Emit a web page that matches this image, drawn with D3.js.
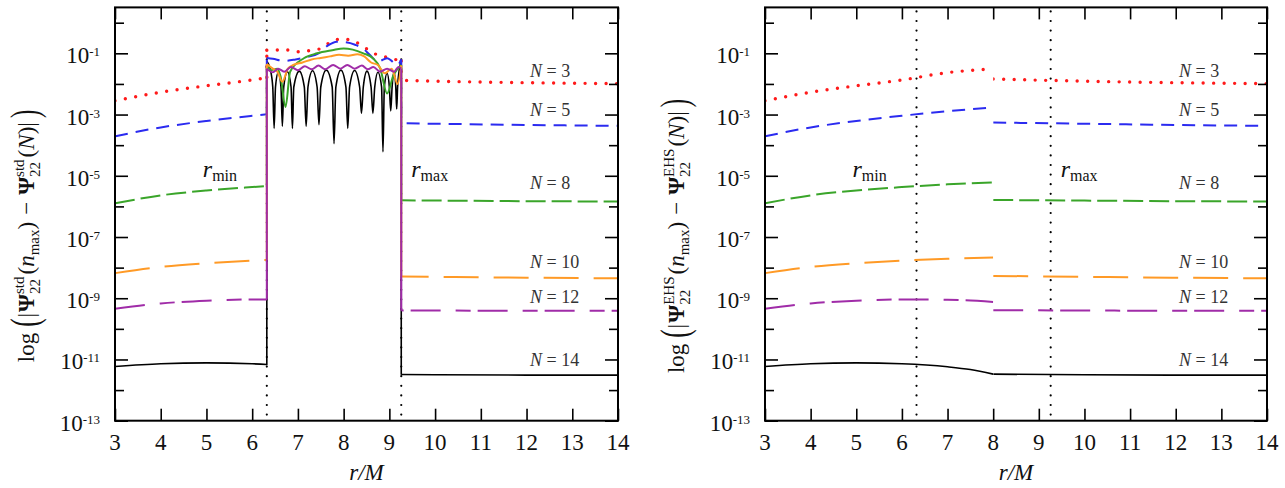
<!DOCTYPE html>
<html>
<head>
<meta charset="utf-8">
<script src="https://cdn.jsdelivr.net/npm/d3@7"></script>
<style>
  html, body { margin: 0; padding: 0; background: #fff; }
  svg { display: block; font-family: "Liberation Serif", "DejaVu Serif", serif; }
  text { white-space: pre; font-family: "Liberation Serif", "DejaVu Serif", serif; }
</style>
</head>
<body>
<svg id="chart" width="1285" height="488"></svg>
<script>
// ---- data: values are log10 of the difference, r in units of M ----
const R_MIN = 6.32, R_MAX = 9.26;
const xTicks = [3, 4, 5, 6, 7, 8, 9, 10, 11, 12, 13, 14];
const yDecades = d3.range(-13, 1);          // a tick at every decade
const yLabelled = [-13, -11, -9, -7, -5, -3, -1];
const nValues = [3, 5, 8, 10, 12, 14];

// EHS curves, r < 8
const innerN3  = [[3, -2.55], [4, -2.27], [5, -2.06], [6, -1.87], [7, -1.63], [8, -1.51]];
const innerN5  = [[3, -3.71], [4, -3.42], [5, -3.21], [6, -3.04], [7, -2.89], [8, -2.77]];
const innerN8  = [[3, -5.90], [4, -5.64], [5, -5.48], [6, -5.37], [7, -5.28], [8, -5.22]];
const innerN10 = [[3, -8.18], [4, -7.98], [5, -7.86], [6, -7.77], [7, -7.71], [8, -7.67]];
const innerN12 = [[3, -9.34], [4, -9.17], [5, -9.08], [6, -9.04], [7, -9.05], [8, -9.12]];
const innerN14 = [[3, -11.23], [4, -11.14], [5, -11.11], [6, -11.14], [7, -11.24], [7.5, -11.33], [8, -11.48]];

// EHS curves, r > 8
const outerN3  = [[8, -1.84], [10, -1.91], [12, -1.96], [14, -1.99]];
const outerN5  = [[8, -3.26], [10, -3.30], [12, -3.34], [14, -3.37]];
const outerN8  = [[8, -5.79], [10, -5.81], [12, -5.83], [14, -5.84]];
const outerN10 = [[8, -8.27], [10, -8.30], [12, -8.33], [14, -8.35]];
const outerN12 = [[8, -9.39], [10, -9.40], [12, -9.41], [14, -9.41]];
const outerN14 = [[8, -11.48], [10, -11.50], [12, -11.51], [14, -11.51]];

// std curves between r_min and r_max (first/last points are the jumps)
const midN3 = [[R_MIN, -1.78], [R_MIN, -0.90], [6.74, -0.89], [7.03, -0.95], [7.30, -0.90], [7.51, -0.84],
  [7.72, -0.62], [7.96, -0.53], [8.25, -0.62], [8.47, -0.82], [8.69, -1.02], [9.00, -1.15], [R_MAX, -1.25], [R_MAX, -1.88]];
const midN5 = [[R_MIN, -3.00], [R_MIN, -1.15], [6.45, -1.18], [6.70, -1.25], [6.95, -1.20], [7.20, -1.12], [7.45, -1.00],
  [7.65, -0.75], [7.85, -0.62], [8.05, -0.64], [8.25, -0.72], [8.43, -0.85], [8.57, -1.05], [8.75, -1.27],
  [8.95, -1.16], [9.18, -1.38], [R_MAX, -1.20], [R_MAX, -3.29]];
const midN8 = [[R_MIN, -5.36], [R_MIN, -1.40], [6.42, -1.55], [6.55, -1.50], [6.62, -1.75], [6.73, -2.75], [6.83, -1.60],
  [7.13, -1.16], [7.42, -1.00], [7.75, -0.90], [8.00, -0.84], [8.20, -0.88], [8.43, -1.00], [8.64, -1.16],
  [8.80, -1.49], [8.95, -2.31], [9.09, -1.71], [R_MAX, -1.38], [R_MAX, -5.80]];
const midN10 = [[R_MIN, -7.75], [R_MIN, -1.35], [6.45, -1.50], [6.55, -1.60], [6.66, -1.93], [6.78, -1.50], [6.90, -1.38],
  [7.10, -1.30], [7.30, -1.20], [7.50, -1.15], [7.70, -1.10], [7.90, -1.05], [8.10, -1.08], [8.30, -1.03],
  [8.45, -1.10], [8.60, -1.30], [8.75, -1.38], [8.90, -1.65], [9.05, -1.50], [9.18, -2.00], [R_MAX, -1.40], [R_MAX, -8.29]];
const midN12 = [[R_MIN, -9.05], [R_MIN, -1.50], [6.45, -1.62], [6.57, -1.50], [6.70, -1.60], [6.85, -1.45], [7.00, -1.55],
  [7.15, -1.42], [7.30, -1.52], [7.45, -1.40], [7.60, -1.52], [7.77, -1.38], [7.93, -1.50], [8.08, -1.38],
  [8.24, -1.50], [8.40, -1.40], [8.53, -1.52], [8.65, -1.45], [8.80, -1.60], [8.95, -1.50], [9.10, -1.60],
  [9.20, -1.45], [R_MAX, -1.50], [R_MAX, -9.40]];
const midN14 = [[R_MIN, -11.19], [R_MIN, -1.25],
  [6.40, -1.55], [6.45, -2.1], [6.48, -3.45], [6.51, -2.1], [6.57, -1.62], [6.63, -2.1], [6.66, -3.38], [6.69, -2.1],
  [6.77, -1.60], [6.85, -2.1], [6.88, -3.45], [6.91, -2.1], [7.03, -1.58], [7.14, -2.1], [7.18, -3.38], [7.22, -2.1],
  [7.32, -1.57], [7.42, -2.1], [7.46, -3.33], [7.50, -2.1], [7.62, -1.55], [7.75, -2.1], [7.79, -3.95], [7.83, -2.1],
  [7.94, -1.55], [8.05, -2.1], [8.09, -3.45], [8.13, -2.1], [8.24, -1.56], [8.35, -2.1], [8.39, -2.96], [8.43, -2.1],
  [8.51, -1.58], [8.60, -2.1], [8.64, -2.96], [8.68, -2.1], [8.75, -1.62], [8.83, -2.1], [8.86, -4.22], [8.89, -2.1],
  [8.95, -1.65], [9.00, -2.1], [9.03, -2.88], [9.06, -2.1], [9.10, -1.60], [9.14, -2.1], [9.16, -2.82], [9.18, -2.1],
  [9.22, -1.50], [R_MAX, -1.25], [R_MAX, -11.50]];

const innerSets = [innerN3, innerN5, innerN8, innerN10, innerN12, innerN14];
const outerSets = [outerN3, outerN5, outerN8, outerN10, outerN12, outerN14];
const midSets = [midN3, midN5, midN8, midN10, midN12, midN14];

// ---- styles ----
const colors = ['#ff1a1a', '#2b2bf0', '#3aa52a', '#ff9a26', '#a02ca8', '#000000'];
const dashes = ['0,10.5', '13,8', '20,6', '35,15', '30,15,15,7', null];
const widths = [3.4, 2, 2, 2, 2, 1.6];
const midDashes = ['0,10.5', '13,8', null, null, null, null];
const drawOrder = [5, 0, 1, 2, 3, 4];

const svg = d3.select('#chart');
const H_TOP = 7.4, H_BOT = 420.7;
const panels = [
  { x0: 115, x1: 618, tag: 'std', cx: 25, mid: true },
  { x0: 765, x1: 1267, tag: 'EHS', cx: 675, mid: false },
];

const y = d3.scaleLog().domain([1e-13, Math.pow(10, 0.5)]).range([H_BOT, H_TOP]);

function addText(g, s, x) {
  const t = g.append('text')
    .attr('font-size', s.size)
    .attr('font-style', s.italic ? 'italic' : null)
    .attr('font-weight', s.bold ? 'bold' : null)
    .attr('fill', '#111')
    .text(s.t);
  if (s.stretch) t.attr('transform', `translate(${x},${s.dy || 0}) scale(1,${s.stretch})`);
  else t.attr('x', x).attr('y', s.dy || 0);
  return t;
}

// lays out a little formula left-to-right, returns its width
function drawMath(g, items) {
  let x = 0;
  items.forEach(it => {
    x += it.gap || 0;
    if (it.stack) {
      let w = 0;
      it.stack.forEach(s => { w = Math.max(w, addText(g, s, x).node().getComputedTextLength()); });
      x += w;
    } else {
      x += addText(g, it, x).node().getComputedTextLength();
    }
  });
  return x;
}

function yLabelItems(tag) {
  const psi = [
    { t: 'Ψ', size: 23, bold: true, gap: 1 },
    { stack: [{ t: tag, size: 15, dy: -10 }, { t: '22', size: 15, dy: 6 }] },
  ];
  return [
    { t: 'log', size: 23 },
    { t: '(', size: 25, stretch: 1.6, dy: 4, gap: 6 },
    { t: '|', size: 23, gap: 1 },
    ...psi,
    { t: '(', size: 23, gap: 2 },
    { t: 'n', size: 23, italic: true },
    { t: 'max', size: 15, dy: 5 },
    { t: ')', size: 23 },
    { t: '−', size: 23, gap: 7 },
    { ...psi[0], gap: 7 }, psi[1],
    { t: '(', size: 23, gap: 2 },
    { t: 'N', size: 23, italic: true },
    { t: ')', size: 23 },
    { t: '|', size: 23 },
    { t: ')', size: 25, stretch: 1.6, dy: 4, gap: 4 },
  ];
}

panels.forEach((p, pi) => {
  const x = d3.scaleLinear().domain([3, 14]).range([p.x0, p.x1]);
  const g = svg.append('g');
  const line = d3.line().x(d => x(d[0])).y(d => y(Math.pow(10, d[1]))).curve(d3.curveMonotoneX);
  const straight = d3.line().x(d => x(d[0])).y(d => y(Math.pow(10, d[1])));

  // clip regions
  const defs = svg.append('defs');
  const clipAll = `clip-all-${pi}`, clipIn = `clip-in-${pi}`, clipOut = `clip-out-${pi}`;
  defs.append('clipPath').attr('id', clipAll).append('rect')
    .attr('x', p.x0).attr('y', H_TOP).attr('width', p.x1 - p.x0).attr('height', H_BOT - H_TOP);
  defs.append('clipPath').attr('id', clipIn).append('rect')
    .attr('x', p.x0).attr('y', H_TOP).attr('width', x(p.mid ? R_MIN : 8) - p.x0).attr('height', H_BOT - H_TOP);
  defs.append('clipPath').attr('id', clipOut).append('rect')
    .attr('x', x(p.mid ? R_MAX : 8)).attr('y', H_TOP).attr('width', p.x1 - x(p.mid ? R_MAX : 8)).attr('height', H_BOT - H_TOP);

  // dotted r_min / r_max markers
  [R_MIN, R_MAX].forEach(r => {
    g.append('line')
      .attr('x1', x(r)).attr('x2', x(r)).attr('y1', H_TOP + 4).attr('y2', H_BOT)
      .attr('stroke', '#000').attr('stroke-width', 2.2)
      .attr('stroke-linecap', 'round').attr('stroke-dasharray', '0,9.6');
  });

  const curves = g.append('g').attr('fill', 'none');
  drawOrder.forEach(i => {
    const style = (sel, dash) => sel
      .attr('stroke', colors[i]).attr('stroke-width', widths[i])
      .attr('stroke-dasharray', dash).attr('stroke-linecap', i === 0 ? 'round' : 'butt');

    curves.append('path').datum(innerSets[i]).attr('d', line)
      .attr('clip-path', `url(#${clipIn})`).call(style, dashes[i]);
    curves.append('path').datum(outerSets[i]).attr('d', line)
      .attr('clip-path', `url(#${clipOut})`).call(style, dashes[i]);

    if (p.mid) {
      const pts = midSets[i];
      const mg = curves.append('g').attr('clip-path', `url(#${clipAll})`);
      mg.append('path').datum(pts.slice(0, 2)).attr('d', straight).call(style, midDashes[i]);
      mg.append('path').datum(pts.slice(1, -1)).attr('d', line).call(style, midDashes[i]);
      mg.append('path').datum(pts.slice(-2)).attr('d', straight).call(style, midDashes[i]);
    }
  });

  // N labels
  const labelExp = [-1.76, -3.05, -5.44, -8.0, -9.17, -11.22];
  nValues.forEach((n, i) => {
    const t = g.append('text')
      .attr('x', p.x1 - 88).attr('y', y(Math.pow(10, labelExp[i])))
      .attr('font-size', 18).attr('fill', '#333');
    t.append('tspan').attr('font-style', 'italic').text('N');
    t.append('tspan').text(' = ' + n);
  });

  // r_min / r_max labels
  [[R_MIN, 'min', -64], [R_MAX, 'max', 10]].forEach(([r, sub, off]) => {
    const t = g.append('text').attr('x', x(r) + off).attr('y', 177).attr('fill', '#111');
    t.append('tspan').attr('font-size', 24).attr('font-style', 'italic').text('r');
    t.append('tspan').attr('font-size', 16).attr('dy', 4).text(sub);
  });

  // axes: ticks drawn inward on all four sides
  const yMajor = yDecades.filter(e => yLabelled.includes(e)).map(e => Math.pow(10, e));
  const yMinor = yDecades.filter(e => !yLabelled.includes(e)).map(e => Math.pow(10, e));
  const tickStyle = a => {
    a.select('.domain').remove();
    a.selectAll('.tick line').attr('stroke', '#000').attr('stroke-width', 1.6);
    a.selectAll('.tick text').remove();
  };
  g.append('g').attr('transform', `translate(${p.x0},0)`)
    .call(d3.axisLeft(y).tickValues(yMajor).tickSize(-13)).call(tickStyle);
  g.append('g').attr('transform', `translate(${p.x0},0)`)
    .call(d3.axisLeft(y).tickValues(yMinor).tickSize(-9)).call(tickStyle);
  g.append('g').attr('transform', `translate(${p.x1},0)`)
    .call(d3.axisRight(y).tickValues(yMajor).tickSize(-13)).call(tickStyle);
  g.append('g').attr('transform', `translate(${p.x1},0)`)
    .call(d3.axisRight(y).tickValues(yMinor).tickSize(-9)).call(tickStyle);
  g.append('g').attr('transform', `translate(0,${H_BOT})`)
    .call(d3.axisBottom(x).tickValues(xTicks).tickSize(-12)).call(tickStyle);
  g.append('g').attr('transform', `translate(0,${H_TOP})`)
    .call(d3.axisTop(x).tickValues(xTicks).tickSize(-12)).call(tickStyle);

  g.append('rect')
    .attr('x', p.x0).attr('y', H_TOP).attr('width', p.x1 - p.x0).attr('height', H_BOT - H_TOP)
    .attr('fill', 'none').attr('stroke', '#000').attr('stroke-width', 2);

  // tick labels
  xTicks.forEach(v => {
    g.append('text').attr('x', x(v)).attr('y', 450).attr('text-anchor', 'middle')
      .attr('font-size', 23).attr('fill', '#111').text(v);
  });
  yLabelled.forEach(e => {
    const t = g.append('text').attr('x', p.x0 - 15).attr('y', y(Math.pow(10, e)) + 10)
      .attr('text-anchor', 'end').attr('font-size', 23).attr('fill', '#111');
    t.append('tspan').text('10');
    t.append('tspan').attr('font-size', 13).attr('dy', -7).text('-' + (-e));
  });

  // axis titles
  const xt = g.append('text').attr('x', (p.x0 + p.x1) / 2).attr('y', 480)
    .attr('text-anchor', 'middle').attr('font-size', 23).attr('font-style', 'italic').attr('fill', '#111');
  xt.text('r/M');

  const yt = g.append('g').attr('transform', `translate(${p.cx + 9},236) rotate(-90)`);
  const inner = yt.append('g');
  const w = drawMath(inner, yLabelItems(p.tag));
  inner.attr('transform', `translate(${-w / 2},0)`);
});
</script>
</body>
</html>
